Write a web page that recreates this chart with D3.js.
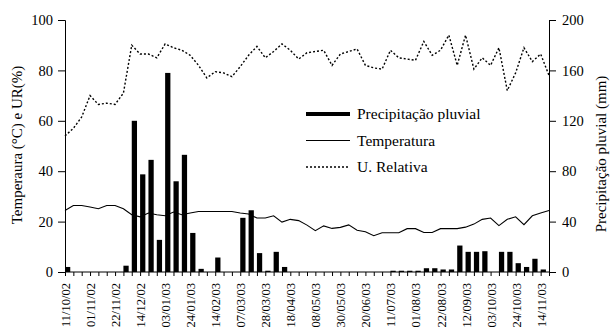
<!DOCTYPE html>
<html>
<head>
<meta charset="utf-8">
<script src="https://cdn.jsdelivr.net/npm/d3@7"></script>
<style>
  body { margin: 0; background: #fff; }
</style>
</head>
<body>
<svg id="chart" width="611" height="330"></svg>
<script>
// weekly series, 59 points from 11/10/02
var dateLabels = ['11/10/02', '01/11/02', '22/11/02', '14/12/02', '03/01/03', '24/01/03', '14/02/03',
  '07/03/03', '28/03/03', '18/04/03', '08/05/03', '30/05/03', '20/06/03', '11/07/03', '01/08/03',
  '22/08/03', '12/09/03', '03/10/03', '24/10/03', '14/11/03']
var labelEvery = 3

var precip = [4, 0, 0, 0, 0, 0, 0, 5, 120, 77.5, 89, 25.5, 158, 72, 93, 31, 2.5, 0, 11.5, 0,
  0, 43, 49, 15, 1, 16, 4, 0, 0, 0, 0, 0, 0, 0, 0, 0, 0, 0, 0, 1,
  1, 1, 1, 3, 3, 2, 2, 21, 16, 16, 16.5, 0, 16, 16, 7, 4, 10.5, 2, 0]

var temp = [24.4, 26.4, 26.4, 25.8, 25.1, 26.4, 26.4, 25.1, 22.7, 21.9, 23.4, 22.7, 22.3, 23.8, 22.7,
  23.4, 24.0, 24.0, 24.0, 24.0, 24.0, 23.4, 23.0, 21.4, 21.4, 22.3, 19.8, 20.9, 20.4, 18.6,
  16.4, 18.3, 17.3, 17.7, 18.7, 16.6, 16.0, 14.4, 15.6, 15.6, 15.6, 17.2, 17.2, 15.7, 15.7,
  17.2, 17.2, 17.2, 17.8, 19.0, 20.9, 21.4, 18.4, 20.9, 21.9, 18.8, 22.3, 23.4, 24.4]

var rh = [54, 57, 61.5, 70, 66.5, 67, 66.5, 71, 90, 86.5, 86.5, 85, 90.5, 89, 88,
  86, 82, 77, 79.5, 79, 77.5, 81.5, 86, 89.5, 85, 87.5, 90.5, 88, 84.5, 87,
  87.5, 88, 82, 86.5, 87.5, 88.5, 82, 81, 80.5, 88, 85, 84.5, 84, 91.5, 86,
  88, 94, 82, 94, 80.5, 85, 82, 89, 72, 79, 89, 83.5, 86.5, 78]

var leftTicks = [0, 20, 40, 60, 80, 100]
var rightTicks = [0, 40, 80, 120, 160, 200]

var FONT = '"Liberation Serif", "Times New Roman", Times, serif'

var svg = d3.select('#chart')
var L = 65, R = 549, T = 20, B = 272

var idx = d3.range(temp.length)
var x = d3.scalePoint().domain(idx).range([L, R])
var step = x.step()
var yL = d3.scaleLinear().domain([0, 100]).range([B, T])
var yR = d3.scaleLinear().domain([0, 200]).range([B, T])

// bars
svg.append('g')
   .selectAll('rect')
   .data(precip)
   .enter()
   .append('rect')
   .attr('x', (d, i) => x(i))
   .attr('width', step * 0.63)
   .attr('y', d => yR(d))
   .attr('height', d => B - yR(d))
   .attr('fill', '#000')

// temperature
svg.append('path')
   .datum(temp)
   .attr('fill', 'none')
   .attr('stroke', '#000')
   .attr('stroke-width', 1.1)
   .attr('d', d3.line().x((d, i) => x(i)).y(d => yL(d)))

// relative humidity
svg.append('path')
   .datum(rh)
   .attr('fill', 'none')
   .attr('stroke', '#000')
   .attr('stroke-width', 1.4)
   .attr('stroke-dasharray', '2,2')
   .attr('d', d3.line().x((d, i) => x(i)).y(d => yL(d)))

// left axis
svg.append('g').attr('transform', 'translate(' + L + ',0)')
  .call(d3.axisLeft(yL).tickValues(leftTicks).tickSize(7).tickPadding(5))

// right axis
svg.append('g').attr('transform', 'translate(' + R + ',0)')
  .call(d3.axisRight(yR).tickValues(rightTicks).tickSize(7).tickPadding(6))

// x axis
var gx = svg.append('g').attr('transform', 'translate(0,' + B + ')')
  .call(d3.axisBottom(x).tickSize(4).tickFormat(''))
gx.select('.domain').attr('d', 'M' + L + ',0H' + R)

svg.selectAll('.domain').attr('stroke', '#000')
svg.selectAll('.tick line').attr('stroke', '#000')
svg.selectAll('.tick text').style('font-family', FONT).style('font-size', '14.5px')

svg.append('g')
   .selectAll('text')
   .data(dateLabels)
   .enter()
   .append('text')
   .attr('transform', (d, i) => 'translate(' + (x(i * labelEvery) + 5) + ',' + (B + 11) + ') rotate(-90)')
   .attr('text-anchor', 'end')
   .style('font-family', FONT)
   .style('font-size', '12.5px')
   .text(d => d)

// axis titles
svg.append('text')
   .attr('transform', 'translate(22,145) rotate(-90)')
   .attr('text-anchor', 'middle')
   .style('font-family', FONT)
   .style('font-size', '15px')
   .text('Temperaura (°C) e UR(%)')

svg.append('text')
   .attr('transform', 'translate(606,154) rotate(-90)')
   .attr('text-anchor', 'middle')
   .style('font-family', FONT)
   .style('font-size', '15px')
   .text('Precipitação pluvial (mm)')

// legend
var legend = [
  {name: 'Precipitação pluvial', w: 4, dash: null},
  {name: 'Temperatura', w: 1.1, dash: null},
  {name: 'U. Relativa', w: 1.4, dash: '2,2'}
]
var lg = svg.append('g').attr('transform', 'translate(306,114)')
legend.forEach(function (d, i) {
  var row = lg.append('g').attr('transform', 'translate(0,' + i * 26.5 + ')')
  row.append('line')
     .attr('x1', 0).attr('x2', 44)
     .attr('stroke', '#000')
     .attr('stroke-width', d.w)
     .attr('stroke-dasharray', d.dash)
  row.append('text')
     .attr('x', 51)
     .attr('dy', '0.35em')
     .style('font-family', FONT)
     .style('font-size', '15.5px')
     .text(d.name)
})
</script>
</body>
</html>
